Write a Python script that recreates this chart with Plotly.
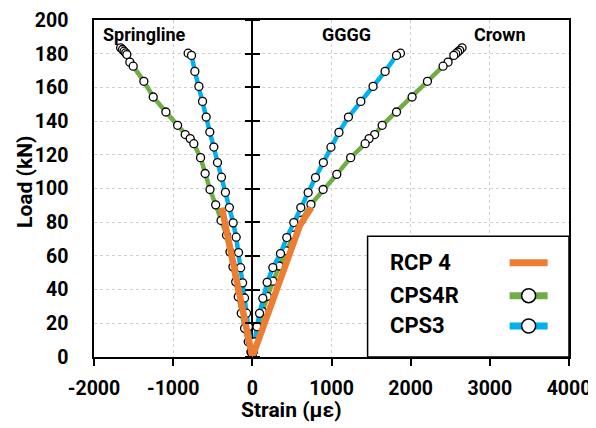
import plotly.graph_objects as go

# ---------------- data ----------------
# CPS4R (green) – Springline (left) and Crown (right)
cps4r_spring_strain = [-1664, -1640, -1620, -1600, -1585, -1547, -1505, -1370, -1252, -1092, -944, -848,
                       -785, -739, -654, -596, -535, -463, -395, -326, -282, -245, -210, -178, -140,
                       -98, -52, -18, 0]
cps4r_spring_load = [183.5, 182.5, 181.5, 180.5, 179.5, 175, 172.6, 163.6, 154.3, 145.4, 137.5, 132,
                     129.6, 126.6, 118.3, 108.9, 99.4, 90.3, 81, 72.3, 62.4, 53.5, 44.6, 35.7, 25.9,
                     17, 9, 3, 0]
cps4r_crown_strain = [2649, 2620, 2595, 2570, 2545, 2472, 2409, 2212, 2018, 1821, 1640, 1545, 1475,
                      1425, 1242, 1067, 894, 740, 621, 520, 430, 340, 260, 190, 128, 78, 35, 10, 0]
cps4r_crown_load = [183.5, 182, 181, 180, 179, 175, 172.6, 163.6, 154.3, 145.4, 137.5, 132, 129.6,
                    126.6, 118.3, 108.4, 99.4, 90.5, 81.2, 72.3, 63, 54, 45, 36, 27, 18, 9, 3, 0]

# CPS3 (blue) – Springline (left) and GGGG (right)
cps3_spring_strain = [-811, -768, -726, -675, -629, -583, -537, -486, -440, -390, -340, -290, -242,
                      -204, -174, -148, -123, -98, -73, -50, -26, -9, 0]
cps3_spring_load = [180.3, 179, 169.5, 160.6, 151.7, 142.4, 133.5, 124.6, 115.4, 106.7, 97.7, 88.7,
                    79.6, 71.1, 62, 53, 44, 35, 26, 18, 9, 3, 0]
cps3_gggg_strain = [1871, 1821, 1677, 1525, 1370, 1214, 1094, 993, 897, 798, 705, 612, 524, 435, 356,
                    259, 187, 133, 91, 58, 27, 8, 0]
cps3_gggg_load = [180.3, 179, 169.5, 160.6, 151.7, 142.4, 133.3, 124.5, 115.4, 106.5, 97.6, 88.7,
                  79.8, 70.9, 61.4, 53.1, 44.3, 34.8, 25.9, 18, 9, 3, 0]

# RCP 4 (orange, experiment)
rcp4_left_strain = [0, -90, -180, -270, -385]
rcp4_left_load = [0, 21, 42, 64, 88.7]
rcp4_right_strain = [0, 120, 240, 360, 480, 600, 680, 747]
rcp4_right_load = [0, 16, 32, 47.6, 63, 78, 84, 88.7]

x_ticks = [-2000, -1000, 0, 1000, 2000, 3000, 4000]
x_tick_text = ["-2000", "-1000", "0", "1000", "2000", "3000", "4000"]
y_ticks = [0, 20, 40, 60, 80, 100, 120, 140, 160, 180, 200]
legend_names = ["RCP 4", "CPS4R", "CPS3"]
region_labels = ["Springline", "GGGG", "Crown"]
region_label_x = [-1357, 1193, 3125]
x_title = "Strain (με)"
y_title = "Load (kN)"

GREEN = "#70AD47"
BLUE = "#00B0F0"
ORANGE = "#ED7D31"
FONT = "Roboto"

marker = dict(size=8, color="white", line=dict(color="black", width=1.3))

fig = go.Figure()
for xs, ys in [(cps4r_spring_strain, cps4r_spring_load), (cps4r_crown_strain, cps4r_crown_load)]:
    fig.add_trace(go.Scatter(x=xs, y=ys, mode="lines+markers", line=dict(color=GREEN, width=4.5),
                             marker=marker, showlegend=False))
for xs, ys in [(cps3_spring_strain, cps3_spring_load), (cps3_gggg_strain, cps3_gggg_load)]:
    fig.add_trace(go.Scatter(x=xs, y=ys, mode="lines+markers", line=dict(color=BLUE, width=4.5),
                             marker=marker, showlegend=False))
for xs, ys in [(rcp4_left_strain, rcp4_left_load), (rcp4_right_strain, rcp4_right_load)]:
    fig.add_trace(go.Scatter(x=xs, y=ys, mode="lines", line=dict(color=ORANGE, width=6.5),
                             showlegend=False))

grid = dict(showgrid=True, gridcolor="#D0D0D0", gridwidth=1, griddash="dot")
tickfont = dict(family=FONT, size=19.5, color="black", weight="bold")
titlefont = dict(family=FONT, size=21, color="black", weight="bold")

# page body has an 8px margin, so the figure is made 8px smaller and shifted accordingly
fig.update_layout(
    width=588, height=420,
    margin=dict(l=86, r=26.5, t=11.5, b=71),
    paper_bgcolor="white", plot_bgcolor="white",
    showlegend=False,
    xaxis=dict(range=[-2000, 4000], tickvals=x_ticks, ticktext=x_tick_text, ticks="outside",
               ticklen=7, tickwidth=1.5, automargin=False,
               tickcolor="black", showline=True, linecolor="black", linewidth=1.5, mirror=True,
               zeroline=True, zerolinecolor="black", zerolinewidth=2, tickfont=tickfont,
               ticklabelstandoff=6, **grid),
    yaxis=dict(range=[0, 200], tickvals=y_ticks, ticks="", showline=True, linecolor="black",
               linewidth=1.5, mirror=True, zeroline=False, tickfont=tickfont, ticklabelstandoff=20,
               automargin=False, **grid),
    yaxis2=dict(range=[0, 200], tickvals=y_ticks, overlaying="y", anchor="free", position=1/3,
                side="left", ticks="outside", ticklen=7, tickwidth=2, tickcolor="black",
                showticklabels=False, showgrid=False, showline=False, zeroline=False,
                automargin=False),
    yaxis3=dict(range=[0, 200], tickvals=y_ticks, overlaying="y", anchor="free", position=1/3,
                side="right", ticks="outside", ticklen=7, tickwidth=2, tickcolor="black",
                showticklabels=False, showgrid=False, showline=False, zeroline=False,
                automargin=False),
)

# invisible helpers so the tick axes at x=0 are rendered
fig.add_trace(go.Scatter(x=[None], y=[None], yaxis="y2", showlegend=False, hoverinfo="skip"))
fig.add_trace(go.Scatter(x=[None], y=[None], yaxis="y3", showlegend=False, hoverinfo="skip"))

# axis titles (placed like the reference, slightly off-centre)
fig.add_annotation(x=0.416, y=-0.157, xref="paper", yref="paper", text=x_title, showarrow=False,
                   xanchor="center", yanchor="middle", font=titlefont)
fig.add_annotation(x=-0.145, y=0.52, xref="paper", yref="paper", text=y_title, showarrow=False,
                   textangle=-90, xanchor="center", yanchor="middle", font=titlefont)

# region labels
for txt, xv in zip(region_labels, region_label_x):
    fig.add_annotation(x=xv, y=191.5, xref="x", yref="y", text=txt, showarrow=False,
                       font=dict(family=FONT, size=18, color="black", weight="bold"))

# custom legend (symbols on the right, as in the reference)
fig.add_shape(type="rect", xref="paper", yref="paper", x0=0.576, x1=1.0, y0=0.0, y1=0.3585,
              fillcolor="white", line=dict(color="black", width=1.5), layer="above")
leg_y = [0.280, 0.182, 0.092]
leg_col = [ORANGE, GREEN, BLUE]
for i, (name, yy, col) in enumerate(zip(legend_names, leg_y, leg_col)):
    fig.add_annotation(x=0.618, y=yy, xref="paper", yref="paper", text=name, showarrow=False,
                       xanchor="left", yanchor="middle",
                       font=dict(family=FONT, size=22, color="black", weight="bold"))
    fig.add_shape(type="line", xref="paper", yref="paper", x0=0.875, x1=0.955, y0=yy, y1=yy,
                  line=dict(color=col, width=7), layer="above")
    if i > 0:
        fig.add_shape(type="circle", xref="paper", yref="paper", xsizemode="pixel",
                      ysizemode="pixel", xanchor=0.915, yanchor=yy, x0=-7, x1=7, y0=-7, y1=7,
                      fillcolor="white", line=dict(color="black", width=1.5), layer="above")

fig.write_html("out.html")
